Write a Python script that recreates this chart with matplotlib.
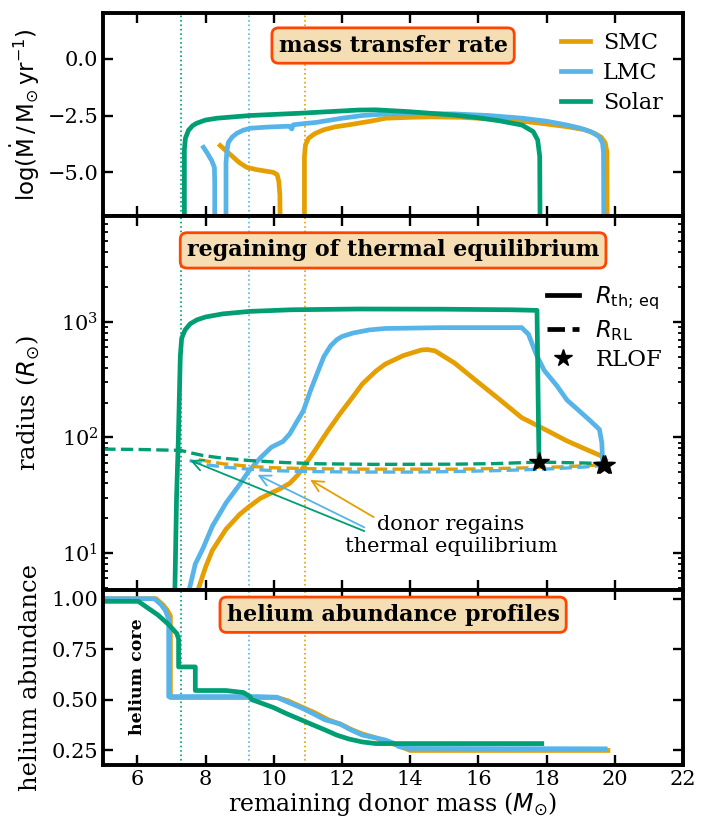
import numpy as np
import matplotlib
matplotlib.use('Agg')
from matplotlib import pyplot as plt

plt.rcParams['font.family'] = 'DejaVu Serif'
plt.rcParams['mathtext.fontset'] = 'dejavusans'

c_smc = '#E69F00'
c_lmc = '#56B4E9'
c_sol = '#009E73'

# onset of thermal equilibrium for each model
m_eq_smc = 10.93
m_eq_lmc = 9.27
m_eq_sol = 7.28

# --- mass transfer rate, log(Mdot / Msun yr^-1) ---
mt_smc1_m = [8.43, 8.6, 8.82, 9.0, 9.21, 9.5, 9.75, 9.99, 10.1, 10.15, 10.18, 10.19]
mt_smc1_y = [-3.82, -4.05, -4.34, -4.58, -4.78, -4.88, -4.94, -5.0, -5.1, -5.4, -6.0, -7.5]
mt_smc2_m = [10.9, 10.9, 10.93, 11.02, 11.2, 11.46, 11.8, 12.24, 12.8, 13.28, 14.0, 14.6, 15.5, 16.6, 17.6, 18.6, 19.1, 19.4, 19.6, 19.72, 19.77, 19.78]
mt_smc2_y = [-7.5, -4.3, -3.8, -3.5, -3.3, -3.13, -3.0, -2.9, -2.76, -2.62, -2.58, -2.56, -2.58, -2.67, -2.8, -2.99, -3.12, -3.28, -3.45, -3.7, -4.1, -7.5]

mt_lmc1_m = [7.94, 8.05, 8.18, 8.26, 8.27, 8.27]
mt_lmc1_y = [-3.9, -4.15, -4.48, -4.78, -5.5, -7.5]
mt_lmc2_m = [8.6, 8.6, 8.63, 8.67, 8.78, 8.92, 9.1, 9.31, 9.8, 10.28, 10.45, 10.53, 10.57, 10.8, 11.26, 12.0, 12.6, 13.3, 14.3, 15.3, 16.3, 17.3, 18.0, 18.6, 19.0, 19.3, 19.54, 19.64, 19.67, 19.68]
mt_lmc2_y = [-7.5, -4.6, -4.0, -3.68, -3.45, -3.28, -3.15, -3.06, -3.01, -2.98, -2.97, -3.09, -2.91, -2.87, -2.8, -2.62, -2.5, -2.43, -2.42, -2.43, -2.5, -2.62, -2.75, -2.92, -3.06, -3.21, -3.43, -3.7, -4.1, -7.5]

mt_sol_m = [7.38, 7.38, 7.41, 7.5, 7.62, 7.74, 8.0, 8.33, 9.31, 10.77, 12.0, 12.48, 13.0, 13.95, 15.28, 16.0, 16.61, 17.28, 17.61, 17.74, 17.8, 17.81]
mt_sol_y = [-7.5, -4.0, -3.5, -3.15, -2.95, -2.84, -2.7, -2.62, -2.5, -2.4, -2.3, -2.26, -2.25, -2.33, -2.48, -2.6, -2.73, -2.92, -3.21, -3.58, -4.3, -7.5]

# --- thermal equilibrium radius (Rsun) ---
rth_smc_m = [7.75, 8.0, 8.2, 8.6, 9.0, 9.27, 9.6, 9.93, 10.2, 10.47, 10.7, 10.87, 11.07, 11.27, 11.6, 11.93, 12.3, 12.6, 13.0, 13.27, 13.8, 14.33, 14.5, 14.73, 15.3, 15.93, 16.6, 17.27, 18.0, 18.6, 19.1, 19.6, 19.72]
rth_smc_r = [4.5, 7.5, 10.5, 16, 21.5, 25, 29.5, 33, 36, 40, 47, 55, 67, 82, 115, 158, 220, 290, 375, 430, 510, 570, 575, 560, 440, 310, 215, 148, 115, 93, 80, 69, 64]

rth_lmc_m = [7.5, 7.7, 7.93, 8.2, 8.6, 9.0, 9.27, 9.6, 9.93, 10.27, 10.47, 10.7, 10.87, 11.07, 11.27, 11.47, 11.67, 11.85, 12.0, 12.33, 12.8, 13.27, 15.0, 17.0, 17.27, 17.47, 17.7, 17.93, 18.3, 18.6, 19.0, 19.27, 19.55, 19.62, 19.65]
rth_lmc_r = [4.5, 8, 11, 17, 27, 39, 51, 66, 82, 92, 107, 140, 170, 250, 355, 500, 620, 700, 745, 800, 850, 875, 890, 890, 890, 780, 520, 380, 280, 210, 165, 140, 117, 90, 58]

rth_sol_m = [7.10, 7.15, 7.2, 7.26, 7.3, 7.4, 7.55, 7.75, 8.0, 8.5, 9.3, 10.5, 12.5, 15.0, 17.0, 17.72, 17.76, 17.78]
rth_sol_r = [4.5, 30, 90, 500, 720, 850, 960, 1040, 1100, 1170, 1230, 1270, 1290, 1285, 1270, 1255, 150, 61]

# --- Roche lobe radius (Rsun) ---
rrl_smc_m = [7.8, 8.5, 9.3, 10.0, 11.0, 12.6, 14.0, 15.5, 17.0, 18.5, 19.72]
rrl_smc_r = [64, 59, 56, 54.5, 53.5, 53, 53, 53, 54, 55.5, 58]
rrl_lmc_m = [7.53, 8.0, 8.6, 9.27, 9.93, 11.0, 12.6, 14.0, 15.27, 16.6, 17.93, 19.0, 19.65]
rrl_lmc_r = [63, 58, 55, 53, 51.5, 50.5, 50, 50, 50.5, 51.5, 53, 55, 57]
rrl_sol_m = [5.0, 6.0, 7.27, 7.6, 7.93, 8.5, 9.27, 10.3, 11.27, 13.0, 15.27, 16.5, 17.78, 19.0, 19.95]
rrl_sol_r = [79, 78.5, 77, 73, 69.5, 66, 63, 60.5, 59, 58.3, 58.5, 59.2, 61, 60, 59]

# onset of RLOF
rlof_m = [17.78, 19.65, 19.72]
rlof_r = [61, 57, 58]

# --- helium abundance profiles ---
he_smc_m = [5.0, 6.55, 6.75, 6.87, 6.97, 6.97, 9.5, 10.1, 10.4, 10.8, 11.2, 11.6, 12.0, 12.3, 12.6, 13.0, 13.3, 13.6, 13.9, 14.0, 19.8]
he_smc_y = [1.0, 1.0, 0.97, 0.945, 0.915, 0.51, 0.51, 0.51, 0.495, 0.465, 0.435, 0.40, 0.375, 0.35, 0.33, 0.31, 0.29, 0.275, 0.255, 0.248, 0.248]
he_lmc_m = [5.0, 6.5, 6.7, 6.82, 6.92, 6.92, 9.5, 10.09, 10.38, 10.8, 11.16, 11.5, 11.94, 12.2, 12.6, 13.0, 13.27, 13.5, 13.67, 13.94, 19.72]
he_lmc_y = [1.0, 1.0, 0.97, 0.942, 0.90, 0.515, 0.515, 0.512, 0.49, 0.46, 0.43, 0.40, 0.38, 0.355, 0.324, 0.31, 0.30, 0.285, 0.267, 0.258, 0.256]
he_sol_m = [5.0, 6.03, 6.3, 6.6, 6.9, 7.16, 7.21, 7.21, 7.7, 7.7, 8.6, 9.11, 9.3, 9.35, 9.6, 10.0, 10.38, 10.8, 11.16, 11.5, 11.85, 12.2, 12.6, 13.0, 17.86]
he_sol_y = [0.987, 0.987, 0.955, 0.92, 0.875, 0.827, 0.80, 0.662, 0.662, 0.545, 0.545, 0.535, 0.515, 0.50, 0.485, 0.46, 0.43, 0.40, 0.374, 0.35, 0.324, 0.305, 0.29, 0.282, 0.282]

lw = 3.4
box = dict(boxstyle='round,pad=0.3', facecolor='#F5DEB3', edgecolor='#FF4500', lw=2)

fig, axs = plt.subplots(3, 1, figsize=(7.07, 8.21), dpi=100, sharex=True,
                        gridspec_kw={'height_ratios': [203, 375, 176], 'hspace': 0})
fig.subplots_adjust(left=0.146, right=0.966, top=0.984, bottom=0.068)
ax1, ax2, ax3 = axs

for ax in axs:
    for sp in ax.spines.values():
        sp.set_linewidth(2.8)
    ax.tick_params(which='major', direction='in', length=7.5, width=1.7, top=True, right=True, labelsize=15)
    ax.tick_params(which='minor', direction='in', length=3.8, width=1.3, top=True, right=True)
    ax.axvline(m_eq_sol, color=c_sol, ls=':', lw=1.2)
    ax.axvline(m_eq_lmc, color=c_lmc, ls=':', lw=1.2)
    ax.axvline(m_eq_smc, color=c_smc, ls=':', lw=1.2)

# mass transfer rate
ax1.plot(mt_smc1_m, mt_smc1_y, color=c_smc, lw=lw)
ax1.plot(mt_smc2_m, mt_smc2_y, color=c_smc, lw=lw, label='SMC')
ax1.plot(mt_lmc1_m, mt_lmc1_y, color=c_lmc, lw=lw)
ax1.plot(mt_lmc2_m, mt_lmc2_y, color=c_lmc, lw=lw, label='LMC')
ax1.plot(mt_sol_m, mt_sol_y, color=c_sol, lw=lw, label='Solar')
ax1.set_ylim(-6.9, 2.0)
ax1.set_yticks([0.0, -2.5, -5.0])
ax1.set_ylabel(r'$\log(\dot{\rm M}\,/\,{\rm M}_{\odot}\,{\rm yr}^{-1})$', fontsize=16.5)
ax1.legend(loc='upper right', bbox_to_anchor=(1.0, 1.005), frameon=False, fontsize=16,
           handlelength=1.3, handletextpad=0.6, labelspacing=0.35)
ax1.text(0.5, 0.84, 'mass transfer rate', transform=ax1.transAxes, ha='center', va='center',
         fontsize=16, fontweight='bold', bbox=box)

# radii
ax2.set_yscale('log')
ax2.plot(rth_smc_m, rth_smc_r, color=c_smc, lw=lw)
ax2.plot(rth_lmc_m, rth_lmc_r, color=c_lmc, lw=lw)
ax2.plot(rth_sol_m, rth_sol_r, color=c_sol, lw=lw)
ax2.plot(rrl_smc_m, rrl_smc_r, color=c_smc, lw=2.4, ls='--')
ax2.plot(rrl_lmc_m, rrl_lmc_r, color=c_lmc, lw=2.4, ls='--')
ax2.plot(rrl_sol_m, rrl_sol_r, color=c_sol, lw=2.4, ls='--')
ax2.plot(rlof_m, rlof_r, ls='none', marker='*', ms=15, color='k')
ax2.set_ylim(4.8, 8300)
ax2.set_ylabel(r'radius ($R_{\odot}$)', fontsize=17.5)
ax2.plot([], [], color='k', lw=3.4, label=r'$R_{\rm th;\,eq}$')
ax2.plot([], [], color='k', lw=3.4, ls='--', label=r'$R_{\rm RL}$')
ax2.plot([], [], color='k', ls='none', marker='*', ms=13, label='RLOF')
ax2.legend(loc='upper right', bbox_to_anchor=(1.0, 0.87), frameon=False, fontsize=16.5,
           handlelength=1.4, handletextpad=0.7, labelspacing=0.25)
ax2.text(0.5, 0.907, 'regaining of thermal equilibrium', transform=ax2.transAxes, ha='center',
         va='center', fontsize=16, fontweight='bold', bbox=box)
ax2.text(15.2, 14, 'donor regains\nthermal equilibrium', ha='center', va='center', fontsize=15,
         linespacing=1.2)
ax2.annotate('', xy=(11.0, 44), xytext=(13.0, 19.8),
             arrowprops=dict(arrowstyle='->', color=c_smc, lw=1.3, mutation_scale=20))
ax2.annotate('', xy=(9.45, 48.5), xytext=(12.73, 16.2),
             arrowprops=dict(arrowstyle='->', color=c_lmc, lw=1.3, mutation_scale=20))
ax2.annotate('', xy=(7.47, 64.6), xytext=(12.73, 15.1),
             arrowprops=dict(arrowstyle='->', color=c_sol, lw=1.3, mutation_scale=20))

# helium
ax3.plot(he_smc_m, he_smc_y, color=c_smc, lw=lw)
ax3.plot(he_lmc_m, he_lmc_y, color=c_lmc, lw=lw)
ax3.plot(he_sol_m, he_sol_y, color=c_sol, lw=lw)
ax3.set_ylim(0.175, 1.045)
ax3.set_yticks([0.25, 0.5, 0.75, 1.0])
ax3.set_ylabel('helium abundance', fontsize=17.5)
ax3.text(6.0, 0.613, 'helium core', rotation=90, ha='center', va='center', fontsize=12.5, fontweight='bold')
ax3.text(0.5, 0.857, 'helium abundance profiles', transform=ax3.transAxes, ha='center', va='center',
         fontsize=16, fontweight='bold', bbox=box)
ax3.set_xlim(5, 22)
ax3.set_xticks(np.arange(6, 23, 2))
ax3.set_xlabel(r'remaining donor mass ($M_{\odot}$)', fontsize=17, labelpad=1)
fig.align_ylabels(axs)

plt.savefig('out.png', dpi=100)
